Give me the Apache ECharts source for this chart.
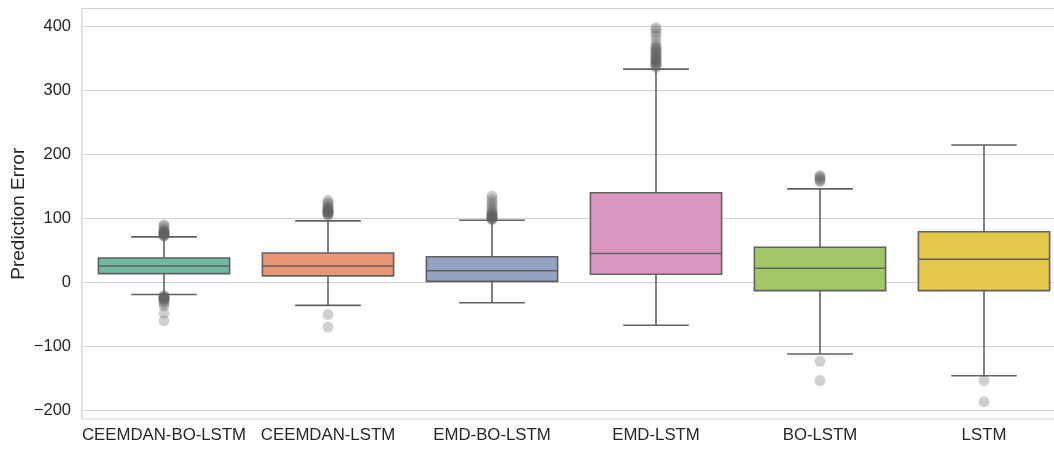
<!DOCTYPE html>
<html>
<head>
<meta charset="utf-8">
<script src="https://cdn.jsdelivr.net/npm/echarts@6/dist/echarts.min.js"></script>
<style>
  html, body { margin: 0; padding: 0; background: #fff; }
  #chart { width: 1054px; height: 449px; }
</style>
</head>
<body>
<div id="chart"></div>
<script>
const categories = ['CEEMDAN-BO-LSTM', 'CEEMDAN-LSTM', 'EMD-BO-LSTM', 'EMD-LSTM', 'BO-LSTM', 'LSTM']
const whiskerLow = [-19, -36, -32, -67, -112, -146]
const q1 = [13.5, 10, 1.5, 12.5, -13, -13]
const median = [25.5, 25.5, 18, 45, 22, 36]
const q3 = [38, 45.8, 40, 140, 54.7, 79]
const whiskerHigh = [71, 96, 97, 333, 146, 214.5]
const outliers = [
  [72, 73, 74, 75, 76, 76, 77, 78, 79, 80, 82, 85, 88, 90,
   -21, -22, -23, -24, -25, -26, -27, -28, -30, -33, -37, -48, -60],
  [104, 106, 107, 108, 109, 110, 111, 112, 113, 114, 115, 117, 119, 122, 125, 128, -50.5, -70],
  [98, 99, 100, 101, 102, 103, 104, 105, 106, 108, 110, 112, 115, 118, 122, 126, 130, 135],
  [336, 338, 340, 342, 343, 345, 347, 348, 350, 352, 354, 356, 358, 360, 362, 364, 366, 368,
   372, 378, 385, 390, 395, 398],
  [157, 159, 161, 163, 165, 167, -123.5, -153.6],
  [-153.6, -186.5]
]
const yTicks = [-200, -100, 0, 100, 200, 300, 400]

const colors = ['#72b7a1', '#e99675', '#95a3c3', '#db96c0', '#a2c865', '#e5c849']
const lineColor = '#616161'
const textColor = '#262626'
const font = '"Liberation Sans", Arial, sans-serif'

const boxData = categories.map((c, i) => [i, whiskerLow[i], q1[i], median[i], q3[i], whiskerHigh[i]])
const flierData = []
outliers.forEach((vals, i) => vals.forEach(v => flierData.push([i, v])))

const chart = echarts.init(document.getElementById('chart'))

const renderBox = (params, api) => {
  const x = api.value(0)
  const lo = api.coord([x, api.value(1)])
  const b1 = api.coord([x, api.value(2)])
  const md = api.coord([x, api.value(3)])
  const b3 = api.coord([x, api.value(4)])
  const hi = api.coord([x, api.value(5)])
  const bw = api.size([1, 0])[0] * 0.8
  const cw = bw / 2
  const cx = b1[0]
  const st = { stroke: lineColor, lineWidth: 1.6 }
  return {
    type: 'group',
    children: [
      { type: 'line', shape: { x1: cx, y1: b3[1], x2: cx, y2: hi[1] }, style: st },
      { type: 'line', shape: { x1: cx, y1: b1[1], x2: cx, y2: lo[1] }, style: st },
      { type: 'line', shape: { x1: cx - cw / 2, y1: hi[1], x2: cx + cw / 2, y2: hi[1] }, style: st },
      { type: 'line', shape: { x1: cx - cw / 2, y1: lo[1], x2: cx + cw / 2, y2: lo[1] }, style: st },
      {
        type: 'rect',
        shape: { x: cx - bw / 2, y: b3[1], width: bw, height: b1[1] - b3[1] },
        style: { fill: colors[params.dataIndex], stroke: lineColor, lineWidth: 1.6 }
      },
      { type: 'line', shape: { x1: cx - bw / 2, y1: md[1], x2: cx + bw / 2, y2: md[1] }, style: st }
    ]
  }
}

const option = {
  backgroundColor: '#fff',
  animation: false,
  grid: {
    left: 82, right: -12, top: 8.5, bottom: 30,
    outerBoundsMode: 'none',
    containLabel: false,
    show: true, borderColor: '#d0d0d0', borderWidth: 1.2, backgroundColor: 'transparent'
  },
  xAxis: {
    type: 'category',
    data: categories,
    boundaryGap: true,
    axisLine: { show: false },
    axisTick: { show: false },
    splitLine: { show: false },
    axisLabel: { color: textColor, fontSize: 16.8, fontFamily: font, margin: 8, interval: 0 }
  },
  yAxis: {
    type: 'value',
    min: -213.6,
    max: 427.8,
    name: 'Prediction Error',
    nameLocation: 'middle',
    nameGap: 54,
    nameMoveOverlap: false,
    nameTextStyle: { color: textColor, fontSize: 19, fontFamily: font },
    axisLine: { show: false },
    axisTick: { show: false, customValues: yTicks },
    splitLine: { show: true, lineStyle: { color: '#d3d3d3', width: 1.1 } },
    axisLabel: {
      color: textColor, fontSize: 16.5, fontFamily: font, margin: 11,
      customValues: yTicks,
      formatter: v => (v < 0 ? '\u2212' + Math.abs(v) : String(v))
    }
  },
  series: [
    {
      type: 'custom',
      renderItem: renderBox,
      data: boxData,
      encode: { x: 0, y: [1, 2, 3, 4, 5] },
      z: 2
    },
    {
      type: 'scatter',
      data: flierData,
      symbol: 'circle',
      symbolSize: 11,
      itemStyle: { color: 'rgba(96,96,96,0.37)' },
      z: 3
    }
  ]
}

chart.setOption(option)
</script>
</body>
</html>
